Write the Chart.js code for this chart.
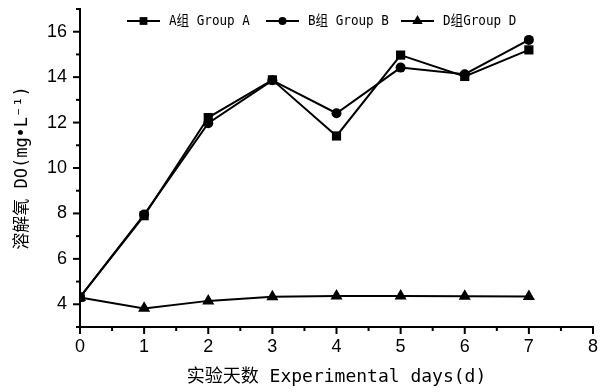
<!DOCTYPE html>
<html>
<head>
<meta charset="utf-8">
<script src="https://cdn.jsdelivr.net/npm/chart.js"></script>
<style>
  html, body { margin: 0; padding: 0; background: #fff; }
  #wrap { width: 603px; height: 392px; }
</style>
</head>
<body>
<div id="wrap"><canvas id="doChart"></canvas></div>
<script>
const days = [0, 1, 2, 3, 4, 5, 6, 7];
const groupA = [4.31, 7.9, 12.22, 13.88, 11.41, 14.97, 14.03, 15.2];
const groupB = [4.31, 7.95, 11.97, 13.86, 12.41, 14.42, 14.13, 15.64];
const groupD = [4.3, 3.82, 4.15, 4.33, 4.36, 4.36, 4.35, 4.34];
const seriesNames = ["A组 Group A", "B组 Group B", "D组Group D"];
const yTickLabels = [4, 6, 8, 10, 12, 14, 16];
const xTickLabels = [0, 1, 2, 3, 4, 5, 6, 7, 8];

const monoFont = "'DejaVu Sans Mono', 'Noto Sans CJK SC', monospace";

function toPoints(vals) {
  return days.map((d, i) => ({ x: d, y: vals[i] }));
}

// ticks drawn by hand: long at labelled values, short in between
const axisTicks = {
  id: "axisTicks",
  afterDraw(chart) {
    const ctx = chart.ctx;
    const xs = chart.scales.x, ys = chart.scales.y;
    ctx.save();
    ctx.strokeStyle = "#000";
    ctx.lineWidth = 2;
    xs.ticks.forEach(t => {
      const px = xs.getPixelForValue(t.value);
      const len = xTickLabels.includes(t.value) ? 7 : 4;
      ctx.beginPath();
      ctx.moveTo(px, xs.top);
      ctx.lineTo(px, xs.top + len);
      ctx.stroke();
    });
    ys.ticks.forEach(t => {
      const py = ys.getPixelForValue(t.value);
      const len = yTickLabels.includes(t.value) ? 7 : 4;
      ctx.beginPath();
      ctx.moveTo(ys.right, py);
      ctx.lineTo(ys.right - len, py);
      ctx.stroke();
    });
    ctx.restore();
  }
};

// legend inside plot: line with marker, then label
const lineLegend = {
  id: "lineLegend",
  afterDraw(chart) {
    const ctx = chart.ctx;
    const starts = [127, 266, 401];
    const y = 21;
    chart.data.datasets.forEach((ds, i) => {
      const x0 = starts[i];
      ctx.save();
      ctx.strokeStyle = "#000";
      ctx.lineWidth = 2;
      ctx.beginPath();
      ctx.moveTo(x0, y);
      ctx.lineTo(x0 + 33, y);
      ctx.stroke();
      ctx.fillStyle = "#000";
      Chart.helpers.drawPoint(ctx, {
        pointStyle: ds.pointStyle,
        radius: ds.pointRadius - 1,
        borderWidth: 0
      }, x0 + 16.5, y);
      // slightly condensed, like the original's narrow mono face
      ctx.translate(x0 + 42, y);
      ctx.scale(0.9, 1);
      ctx.font = "14px " + monoFont;
      ctx.textBaseline = "middle";
      ctx.textAlign = "left";
      ctx.fillText(seriesNames[i], 0, 0);
      ctx.restore();
    });
  }
};

const common = {
  borderColor: "#000",
  backgroundColor: "#000",
  borderWidth: 2,
  pointBorderWidth: 0,
  pointBackgroundColor: "#000",
  tension: 0,
  fill: false
};

new Chart(document.getElementById("doChart"), {
  type: "line",
  data: {
    datasets: [
      { ...common, label: seriesNames[0], data: toPoints(groupA), pointStyle: "rect", pointRadius: 6.5 },
      { ...common, label: seriesNames[1], data: toPoints(groupB), pointStyle: "circle", pointRadius: 5 },
      { ...common, label: seriesNames[2], data: toPoints(groupD), pointStyle: "triangle", pointRadius: 7 }
    ]
  },
  options: {
    responsive: true,
    maintainAspectRatio: false,
    animation: false,
    layout: { padding: { top: 9, right: 10, left: 0, bottom: 0 } },
    plugins: {
      legend: { display: false },
      tooltip: { enabled: false }
    },
    scales: {
      x: {
        type: "linear",
        min: 0,
        max: 8,
        afterFit(s) { s.height = 65; s.paddingLeft = 0; s.paddingRight = 0; },
        border: { display: true, color: "#000", width: 2 },
        grid: { display: true, drawOnChartArea: false, drawTicks: true, tickLength: 7, color: "transparent" },
        ticks: {
          stepSize: 0.5,
          autoSkip: false,
          maxRotation: 0,
          padding: 2,
          color: "#000",
          font: { family: "'Liberation Sans', Arial, sans-serif", size: 18 },
          callback: v => xTickLabels.includes(v) ? String(v) : ""
        },
        title: {
          display: true,
          text: "实验天数 Experimental days(d)",
          color: "#000",
          font: { family: monoFont, size: 18 },
          padding: { top: 4, bottom: 4 }
        }
      },
      y: {
        min: 3,
        max: 17,
        afterFit(s) { s.width = 80; s.paddingTop = 0; s.paddingBottom = 0; },
        border: { display: true, color: "#000", width: 2 },
        grid: { display: true, drawOnChartArea: false, drawTicks: true, tickLength: 7, color: "transparent" },
        ticks: {
          stepSize: 1,
          autoSkip: false,
          padding: 6,
          color: "#000",
          font: { family: "'Liberation Sans', Arial, sans-serif", size: 18 },
          callback: v => yTickLabels.includes(v) ? String(v) : ""
        },
        title: {
          display: true,
          text: "溶解氧 DO(mg•L⁻¹)",
          color: "#000",
          font: { family: monoFont, size: 17 },
          padding: { top: 12, bottom: 12 }
        }
      }
    }
  },
  plugins: [axisTicks, lineLegend]
});
</script>
</body>
</html>
